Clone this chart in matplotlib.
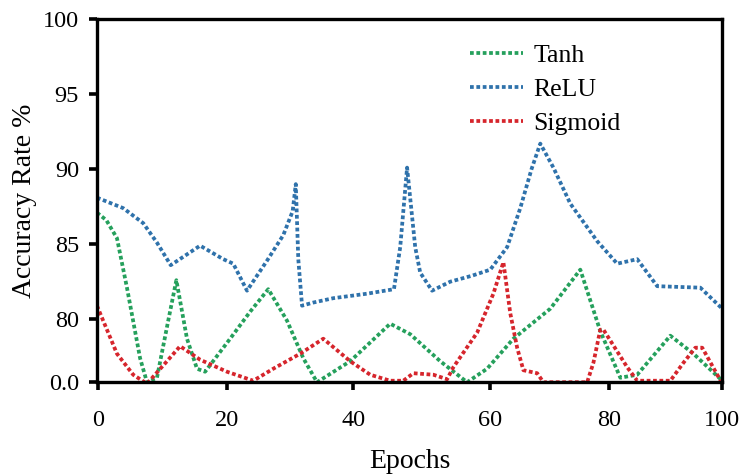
import matplotlib.pyplot as plt

plt.rcParams['font.family'] = ['Liberation Serif', 'DejaVu Serif']

# x positions in the plot's 0-100 frame
relu_x = [0, 4.2, 7.4, 9.6, 11.8, 16.5, 20.2, 21.8, 24, 27.2, 29.8, 31.3, 31.8, 32.2, 32.8,
          34.5, 37.8, 43.2, 47.5, 48.5, 49.6, 50.9, 51.7, 53.6, 56.5, 60, 62.9, 65.6, 67.7,
          69.5, 70.9, 73, 75.7, 80, 83.2, 86.4, 89.6, 96.5, 100]
relu_y = [88.1, 87.4, 86.4, 85.1, 83.6, 84.9, 84.0, 83.7, 81.9, 83.9, 85.6, 87.2, 89.0, 84.0, 80.9,
          81.1, 81.4, 81.7, 82.0, 84.8, 90.1, 84.8, 83.1, 81.9, 82.5, 82.9, 83.3, 84.8, 87.4,
          90.0, 91.7, 90.1, 87.7, 85.2, 83.7, 84.0, 82.2, 82.1, 80.7]

tanh_x = [0, 1.5, 3.2, 4.8, 6.9, 8.0, 9.6, 11.4, 12.7, 14.4, 16.0, 17.3, 21.3, 24.5, 27.4,
          30.4, 33.0, 35.2, 40.5, 46.9, 50.1, 54.9, 59.2, 62.4, 66.6, 72.5, 77.3, 80.5,
          83.7, 86.4, 91.7, 95.4, 100]
tanh_y = [87.1, 86.6, 85.4, 82.1, 77.4, 75.8, 76.1, 79.9, 82.6, 78.7, 76.7, 76.5, 78.7, 80.5, 82.0,
          79.9, 77.4, 75.8, 77.2, 79.7, 79.0, 77.2, 75.8, 76.7, 78.7, 80.7, 83.3, 79.2,
          76.1, 76.3, 78.9, 77.7, 75.9]

sig_x = [0, 3.2, 5.8, 8.0, 11.2, 13.3, 16.5, 20.8, 25.0, 28.2, 32.5, 36.2, 40.5, 43.7, 46.9,
         49.0, 50.6, 53.8, 56.0, 57.0, 60.8, 63.4, 65.0, 66.1, 67.2, 68.2, 70.4, 71.4, 78.4,
         79.4, 80.5, 81.0, 84.8, 86.4, 91.7, 93.8, 95.7, 96.8, 100]
sig_y = [80.9, 77.7, 76.3, 75.7, 77.2, 78.2, 77.3, 76.5, 75.9, 76.7, 77.7, 78.7, 77.2, 76.3, 75.9,
         75.9, 76.4, 76.3, 76.0, 76.8, 79.1, 81.7, 83.8, 80.4, 78.1, 76.6, 76.4, 75.8, 75.8,
         77.1, 79.3, 79.3, 76.8, 75.9, 75.9, 77.1, 78.1, 78.1, 75.7]

xtick_pos = [0.2, 20.8, 41.0, 62.9, 81.9, 100]
xtick_labels = ['0', '20', '40', '60', '80', '100']
ytick_pos = [75.8, 80, 85, 90, 95, 100]
ytick_labels = ['0.0', '80', '85', '90', '95', '100']

fig = plt.figure(figsize=(7.4, 4.76), dpi=100)
ax = fig.add_axes([0.131, 0.197, 0.845, 0.763])

dot = (0, (1, 0.7))
ax.plot(tanh_x, tanh_y, color='#25a05c', lw=2.7, ls=dot, label='Tanh')
ax.plot(relu_x, relu_y, color='#2f72ab', lw=2.7, ls=dot, label='ReLU')
ax.plot(sig_x, sig_y, color='#d6252c', lw=2.7, ls=dot, label='Sigmoid')

ax.set_xlim(0, 100)
ax.set_ylim(75.8, 100)
ax.set_xticks(xtick_pos, xtick_labels)
ax.set_yticks(ytick_pos, ytick_labels)
for s in ax.spines.values():
    s.set_linewidth(2.4)
ax.tick_params(direction='out', length=6, width=2.6, labelsize=17.5)
ax.tick_params(axis='x', pad=14)
ax.tick_params(axis='y', pad=7)
ax.set_xlabel('Epochs', fontsize=20, labelpad=13)
ax.set_ylabel('Accuracy Rate %', fontsize=20, labelpad=4)

ax.legend(loc='upper left', bbox_to_anchor=(0.597, 0.93), frameon=False, fontsize=18.5,
          handlelength=2.05, handletextpad=0.4, labelspacing=0.42, borderpad=0, borderaxespad=0)

fig.savefig('out.png', dpi=100)
